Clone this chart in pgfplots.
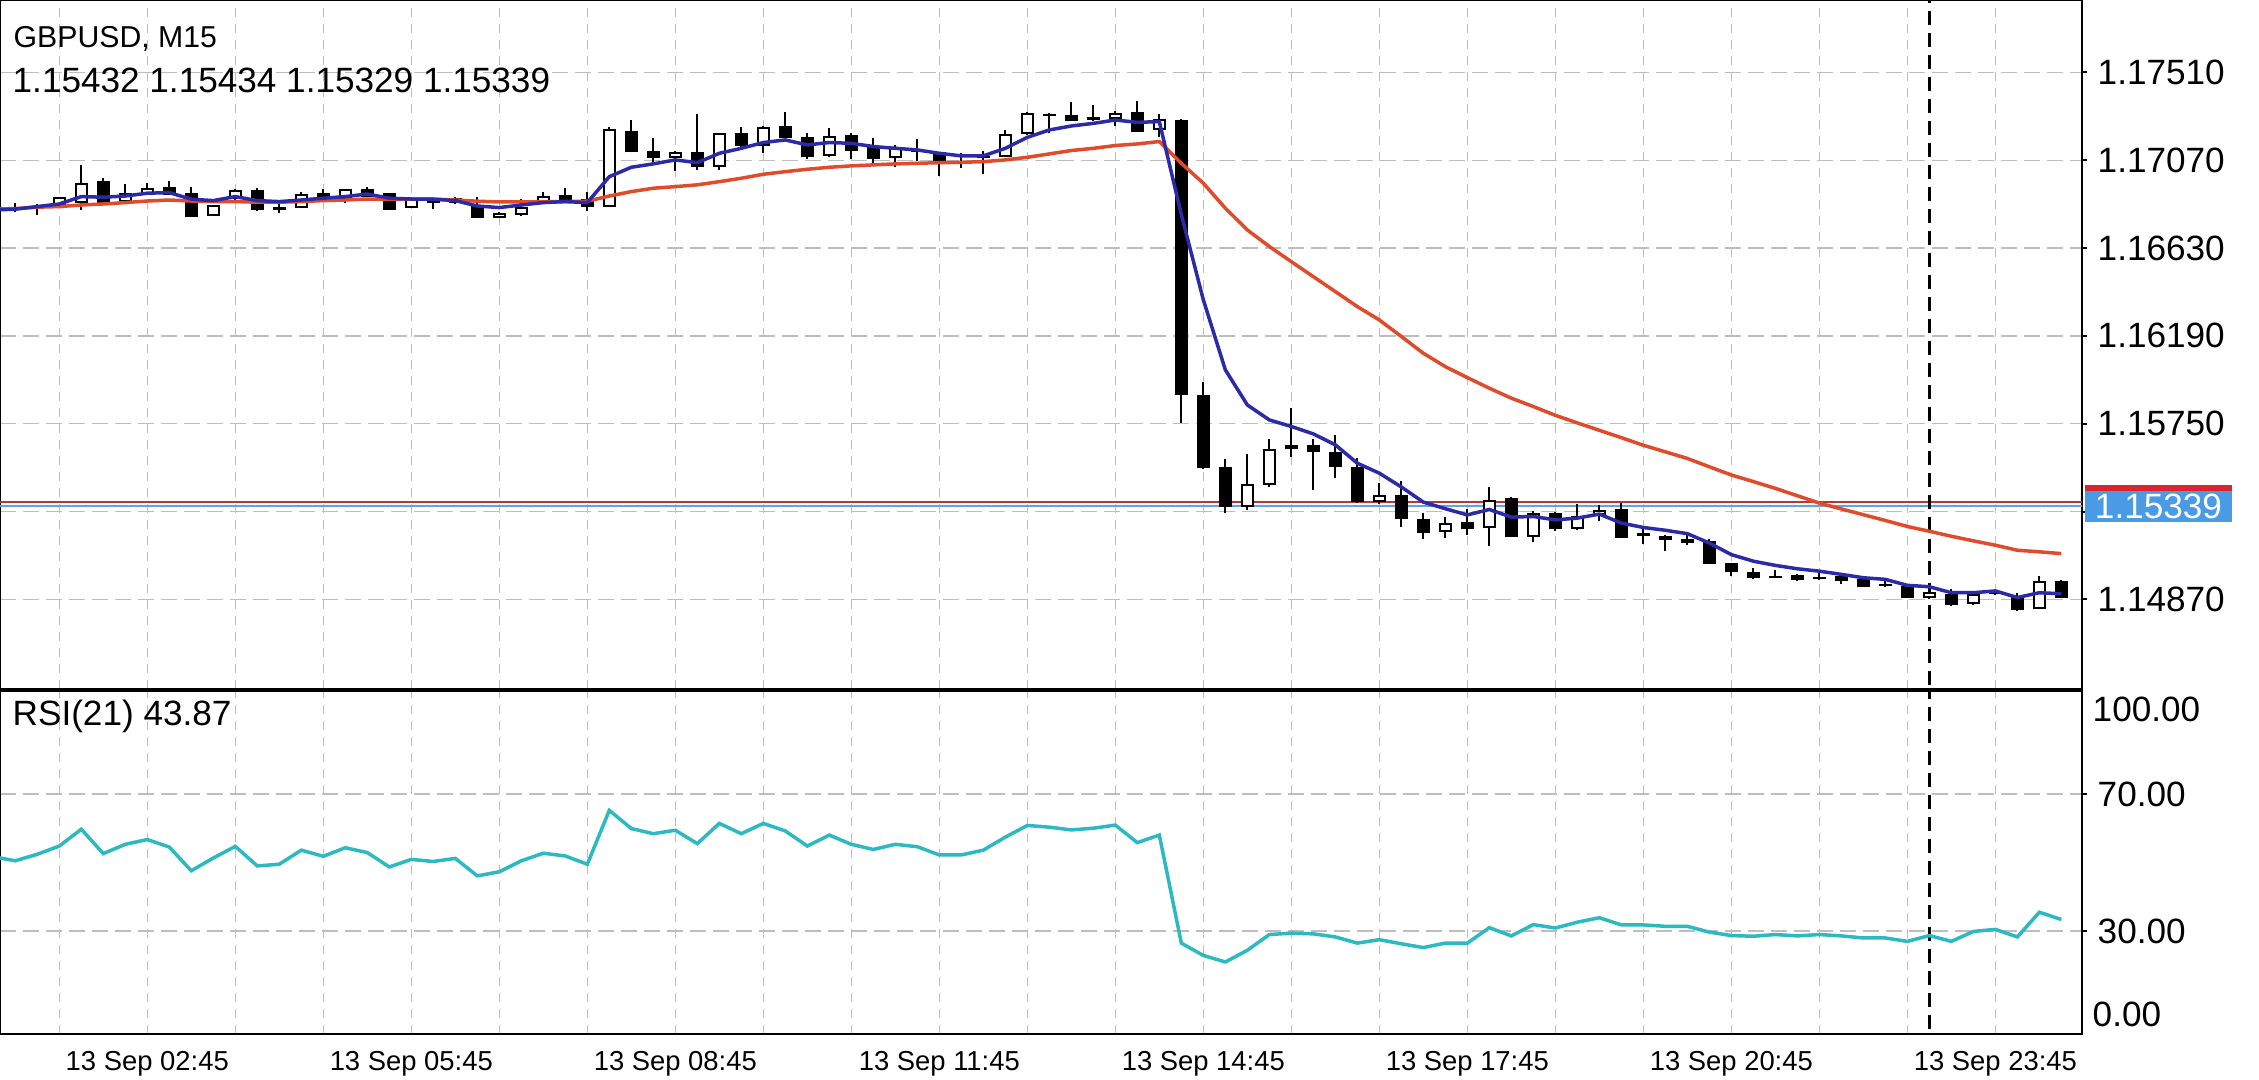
\documentclass[border=0pt]{standalone}
\usepackage{fontspec}
\setmainfont{Liberation Sans}
\usepackage{pgfplots}
\usepackage{pgfplotstable}
\pgfplotsset{compat=1.18}

\definecolor{emafast}{HTML}{2B2BA8}
\definecolor{emaslow}{HTML}{E04B2B}
\definecolor{rsiline}{HTML}{2DB9C2}
\definecolor{gridgray}{HTML}{BEBEBE}
\definecolor{bidblue}{HTML}{62A4DE}
\definecolor{askred}{HTML}{B2383A}
\definecolor{tagblue}{HTML}{4A9BE6}
\definecolor{tagred}{HTML}{D9252E}

% M15 candles, bar 0 = 13 Sep 01:15
\pgfplotstableread{
i O H L C
0 1.16830 1.16855 1.16813 1.16828
1 1.16838 1.16851 1.16796 1.16836
2 1.16841 1.16885 1.16838 1.16885
3 1.16858 1.17047 1.16821 1.16958
4 1.16967 1.16980 1.16855 1.16858
5 1.16863 1.16951 1.16863 1.16908
6 1.16896 1.16955 1.16896 1.16930
7 1.16935 1.16966 1.16896 1.16896
8 1.16905 1.16935 1.16788 1.16788
9 1.16791 1.16846 1.16791 1.16846
10 1.16875 1.16925 1.16855 1.16921
11 1.16921 1.16930 1.16818 1.16821
12 1.16836 1.16871 1.16808 1.16821
13 1.16830 1.16913 1.16830 1.16901
14 1.16905 1.16925 1.16868 1.16875
15 1.16871 1.16925 1.16858 1.16925
16 1.16925 1.16935 1.16885 1.16888
17 1.16905 1.16908 1.16821 1.16821
18 1.16833 1.16885 1.16830 1.16880
19 1.16858 1.16880 1.16825 1.16860
20 1.16880 1.16885 1.16851 1.16855
21 1.16841 1.16888 1.16783 1.16783
22 1.16783 1.16813 1.16783 1.16805
23 1.16796 1.16876 1.16791 1.16838
24 1.16858 1.16910 1.16855 1.16891
25 1.16896 1.16930 1.16863 1.16868
26 1.16876 1.16913 1.16818 1.16838
27 1.16838 1.17239 1.16835 1.17225
28 1.17219 1.17272 1.17110 1.17110
29 1.17119 1.17180 1.17059 1.17080
30 1.17080 1.17119 1.17018 1.17114
31 1.17114 1.17302 1.17022 1.17038
32 1.17035 1.17209 1.17022 1.17205
33 1.17205 1.17239 1.17139 1.17142
34 1.17142 1.17242 1.17108 1.17239
35 1.17244 1.17311 1.17180 1.17183
36 1.17189 1.17205 1.17075 1.17085
37 1.17092 1.17230 1.17085 1.17194
38 1.17197 1.17209 1.17077 1.17119
39 1.17142 1.17180 1.17055 1.17078
40 1.17080 1.17147 1.17035 1.17139
41 1.17127 1.17175 1.17068 1.17110
42 1.17114 1.17114 1.16993 1.17068
43 1.17092 1.17105 1.17030 1.17085
44 1.17080 1.17119 1.17000 1.17088
45 1.17085 1.17222 1.17085 1.17200
46 1.17200 1.17311 1.17197 1.17306
47 1.17302 1.17306 1.17205 1.17292
48 1.17297 1.17361 1.17269 1.17269
49 1.17286 1.17347 1.17269 1.17272
50 1.17275 1.17319 1.17244 1.17309
51 1.17311 1.17369 1.17214 1.17214
52 1.17222 1.17301 1.17189 1.17275
53 1.17272 1.17275 1.15756 1.15894
54 1.15894 1.15961 1.15522 1.15530
55 1.15535 1.15572 1.15302 1.15332
56 1.15332 1.15599 1.15318 1.15447
57 1.15444 1.15672 1.15432 1.15622
58 1.15622 1.15828 1.15582 1.15641
59 1.15641 1.15672 1.15418 1.15607
60 1.15610 1.15691 1.15477 1.15535
61 1.15535 1.15577 1.15355 1.15360
62 1.15360 1.15452 1.15348 1.15393
63 1.15393 1.15465 1.15234 1.15271
64 1.15271 1.15301 1.15171 1.15204
65 1.15206 1.15281 1.15179 1.15251
66 1.15256 1.15321 1.15192 1.15222
67 1.15226 1.15435 1.15139 1.15368
68 1.15376 1.15384 1.15181 1.15184
69 1.15184 1.15314 1.15156 1.15301
70 1.15304 1.15306 1.15214 1.15221
71 1.15224 1.15348 1.15215 1.15285
72 1.15294 1.15343 1.15260 1.15318
73 1.15323 1.15352 1.15177 1.15177
74 1.15188 1.15227 1.15149 1.15189
75 1.15186 1.15194 1.15111 1.15166
76 1.15172 1.15194 1.15141 1.15152
77 1.15161 1.15170 1.15048 1.15048
78 1.15053 1.15053 1.14986 1.15006
79 1.15008 1.15028 1.14970 1.14978
80 1.14986 1.15016 1.14978 1.14978
81 1.14990 1.14995 1.14963 1.14967
82 1.14970 1.15006 1.14968 1.14976
83 1.14986 1.14990 1.14945 1.14962
84 1.14970 1.14975 1.14933 1.14933
85 1.14937 1.14970 1.14933 1.14942
86 1.14937 1.14942 1.14878 1.14878
87 1.14875 1.14915 1.14870 1.14908
88 1.14895 1.14920 1.14838 1.14840
89 1.14845 1.14900 1.14840 1.14895
90 1.14895 1.14910 1.14890 1.14903
91 1.14887 1.14903 1.14812 1.14815
92 1.14820 1.14986 1.14820 1.14962
93 1.14962 1.14965 1.14878 1.14879
}\candles

% moving averages (fast = blue, slow = red)
\pgfplotstableread{
i fast slow
-1 1.16821 1.16825
0 1.16825 1.16828
1 1.16838 1.16835
2 1.16851 1.16838
3 1.16888 1.16846
4 1.16885 1.16851
5 1.16891 1.16858
6 1.16905 1.16866
7 1.16908 1.16871
8 1.16875 1.16866
9 1.16868 1.16863
10 1.16888 1.16863
11 1.16868 1.16860
12 1.16863 1.16860
13 1.16871 1.16863
14 1.16880 1.16868
15 1.16888 1.16871
16 1.16901 1.16876
17 1.16880 1.16876
18 1.16876 1.16876
19 1.16875 1.16875
20 1.16868 1.16871
21 1.16841 1.16865
22 1.16833 1.16861
23 1.16846 1.16861
24 1.16858 1.16863
25 1.16863 1.16863
26 1.16858 1.16865
27 1.16988 1.16891
28 1.17035 1.16913
29 1.17052 1.16930
30 1.17072 1.16938
31 1.17058 1.16947
32 1.17105 1.16963
33 1.17130 1.16980
34 1.17159 1.17000
35 1.17172 1.17013
36 1.17147 1.17025
37 1.17159 1.17035
38 1.17155 1.17042
39 1.17139 1.17047
40 1.17130 1.17052
41 1.17122 1.17055
42 1.17105 1.17058
43 1.17092 1.17060
44 1.17092 1.17063
45 1.17130 1.17072
46 1.17185 1.17085
47 1.17222 1.17102
48 1.17242 1.17119
49 1.17255 1.17130
50 1.17272 1.17144
51 1.17260 1.17152
52 1.17264 1.17164
53 1.16798 1.17055
54 1.16371 1.16955
55 1.16020 1.16830
56 1.15844 1.16721
57 1.15769 1.16638
58 1.15736 1.16562
59 1.15699 1.16487
60 1.15644 1.16412
61 1.15552 1.16337
62 1.15502 1.16270
63 1.15433 1.16187
64 1.15357 1.16103
65 1.15324 1.16036
66 1.15293 1.15981
67 1.15320 1.15928
68 1.15282 1.15878
69 1.15285 1.15836
70 1.15268 1.15792
71 1.15277 1.15754
72 1.15297 1.15717
73 1.15252 1.15680
74 1.15230 1.15642
75 1.15216 1.15609
76 1.15199 1.15576
77 1.15152 1.15534
78 1.15094 1.15493
79 1.15061 1.15460
80 1.15040 1.15426
81 1.15023 1.15389
82 1.15011 1.15352
83 1.14995 1.15323
84 1.14978 1.15294
85 1.14970 1.15265
86 1.14940 1.15235
87 1.14933 1.15211
88 1.14903 1.15186
89 1.14903 1.15163
90 1.14912 1.15141
91 1.14879 1.15116
92 1.14903 1.15108
93 1.14898 1.15099
}\ema

\pgfplotstableread{
i rsi
-1 51.7
0 50.5
1 52.4
2 54.8
3 59.7
4 52.6
5 55.3
6 56.7
7 54.5
8 47.6
9 51.3
10 54.7
11 49.0
12 49.5
13 53.6
14 51.8
15 54.3
16 52.9
17 48.7
18 50.9
19 50.3
20 51.2
21 46.1
22 47.3
23 50.5
24 52.7
25 51.9
26 49.5
27 65.2
28 59.9
29 58.4
30 59.4
31 55.5
32 61.4
33 58.4
34 61.4
35 59.2
36 54.8
37 58.0
38 55.3
39 53.8
40 55.3
41 54.6
42 52.2
43 52.2
44 53.6
45 57.4
46 60.8
47 60.3
48 59.5
49 60.0
50 60.9
51 55.8
52 58.0
53 26.5
54 22.9
55 21.0
56 24.4
57 29.0
58 29.4
59 29.2
60 28.3
61 26.5
62 27.5
63 26.3
64 25.2
65 26.5
66 26.5
67 31.0
68 28.6
69 31.9
70 30.9
71 32.6
72 33.9
73 31.8
74 31.8
75 31.4
76 31.4
77 29.7
78 28.7
79 28.5
80 29.0
81 28.6
82 29.0
83 28.6
84 28.0
85 28.0
86 27.0
87 28.7
88 27.0
89 29.9
90 30.5
91 28.3
92 35.5
93 33.4
}\rsi

\pgfplotsset{
  chartpanel/.style={
    scale only axis, width=208.2mm,
    xmin=-0.695, xmax=93.94,
    axis line style={black, line width=0.2mm},
    xtick={2,6,...,90}, xticklabels={},
    xtick style={draw=none},
    xmajorgrids, ymajorgrids,
    x grid style={gridgray, line width=0.15mm, dash pattern=on 0.9mm off 0.7mm},
    y grid style={gridgray, line width=0.15mm, dash pattern=on 1.6mm off 0.7mm},
    ytick pos=right,
    ytick style={black, line width=0.2mm},
    tick align=outside, major tick length=0.5mm,
    yticklabel style={anchor=west, inner sep=0pt, xshift=1mm,
      font=\fontsize{10}{12}\selectfont},
  },
  % vertical segments from the error bars only, the points themselves stay invisible
  segs/.style={only marks, mark=*, mark size=0pt,
    mark options={draw=none, fill=none},
    error bars/.cd, y dir=plus, y explicit, error mark=none,
    error bar style={#1}},
}

\begin{document}
\begin{tikzpicture}
\path[use as bounding box] (0,0) rectangle (225.9mm,-108mm);

\begin{axis}[chartpanel, at={(0mm,0mm)}, anchor=north west,
  height=68.9mm, ymin=1.144206, ymax=1.178733,
  ytick={1.14870,1.15310,1.15750,1.16190,1.16630,1.17070,1.17510},
  yticklabels={1.14870,,1.15750,1.16190,1.16630,1.17070,1.17510},
]
\addplot[askred, line width=0.2mm] coordinates {(-1,1.15358) (95,1.15358)};
\addplot[bidblue, line width=0.2mm] coordinates {(-1,1.15339) (95,1.15339)};
\addplot[black, line width=0.25mm, dash pattern=on 1.4mm off 0.8mm]
  coordinates {(87,1.14) (87,1.18)};
% wicks
\addplot[segs={black, line width=0.2mm}]
  table[x=i, y=L, y error plus expr=\thisrow{H}-\thisrow{L}] {\candles};
% bearish bodies
\addplot[segs={black, line width=1.3mm}]
  table[x=i, y expr={\thisrow{C}<\thisrow{O} ? \thisrow{C} : nan},
    y error plus expr={max(\thisrow{O}-\thisrow{C},0.00006)}] {\candles};
% bullish bodies: outline then white inside
\addplot[segs={black, line width=1.3mm}]
  table[x=i, y expr={\thisrow{C}<\thisrow{O} ? nan : \thisrow{O}},
    y error plus expr={max(\thisrow{C}-\thisrow{O},0.00012)}] {\candles};
\addplot[segs={white, line width=0.9mm}]
  table[x=i, y expr={\thisrow{C}<\thisrow{O} ? nan : \thisrow{O}+0.0001},
    y error plus expr={max(\thisrow{C}-\thisrow{O}-0.0002,0)}] {\candles};
% moving averages
\addplot[emaslow, line width=0.35mm] table[x=i, y=slow] {\ema};
\addplot[emafast, line width=0.35mm] table[x=i, y=fast] {\ema};
\end{axis}

\begin{axis}[chartpanel, at={(0mm,-69.1mm)}, anchor=north west,
  height=34.3mm, ymin=0, ymax=100,
  ytick={30,70}, yticklabels={30.00,70.00},
  extra x ticks={6,18,30,42,54,66,78,90},
  extra x tick labels={13 Sep 02:45,13 Sep 05:45,13 Sep 08:45,13 Sep 11:45,
    13 Sep 14:45,13 Sep 17:45,13 Sep 20:45,13 Sep 23:45},
  extra x tick style={xmajorgrids=false,
    xticklabel style={font=\fontsize{7.8}{9}\selectfont, anchor=center, yshift=-2.5mm}},
]
\addplot[black, line width=0.25mm, dash pattern=on 1.4mm off 0.8mm]
  coordinates {(87,-5) (87,105)};
\addplot[rsiline, line width=0.35mm] table[x=i, y=rsi] {\rsi};
\end{axis}

% header and panel labels
\node[anchor=base west, inner sep=0pt, font=\fontsize{8.6}{10}\selectfont]
  at (1.3mm,-4.8mm) {GBPUSD, M15};
\node[anchor=base west, inner sep=0pt, font=\fontsize{10}{12}\selectfont]
  at (1.2mm,-9.3mm) {1.15432 1.15434 1.15329 1.15339};
\node[anchor=base west, inner sep=0pt, font=\fontsize{10}{12}\selectfont]
  at (1.2mm,-72.6mm) {RSI(21) 43.87};
\node[anchor=west, inner sep=0pt, font=\fontsize{10}{12}\selectfont]
  at (209.2mm,-70.9mm) {100.00};
\node[anchor=west, inner sep=0pt, font=\fontsize{10}{12}\selectfont]
  at (209.2mm,-101.4mm) {0.00};

% current price tag
\fill[tagred] (208.5mm,-48.5mm) rectangle (223.2mm,-49.1mm);
\fill[tagblue] (208.5mm,-49.1mm) rectangle (223.2mm,-52.2mm);
\node[white, inner sep=0pt, font=\fontsize{10}{12}\selectfont]
  at (215.85mm,-50.65mm) {1.15339};
\end{tikzpicture}
\end{document}
